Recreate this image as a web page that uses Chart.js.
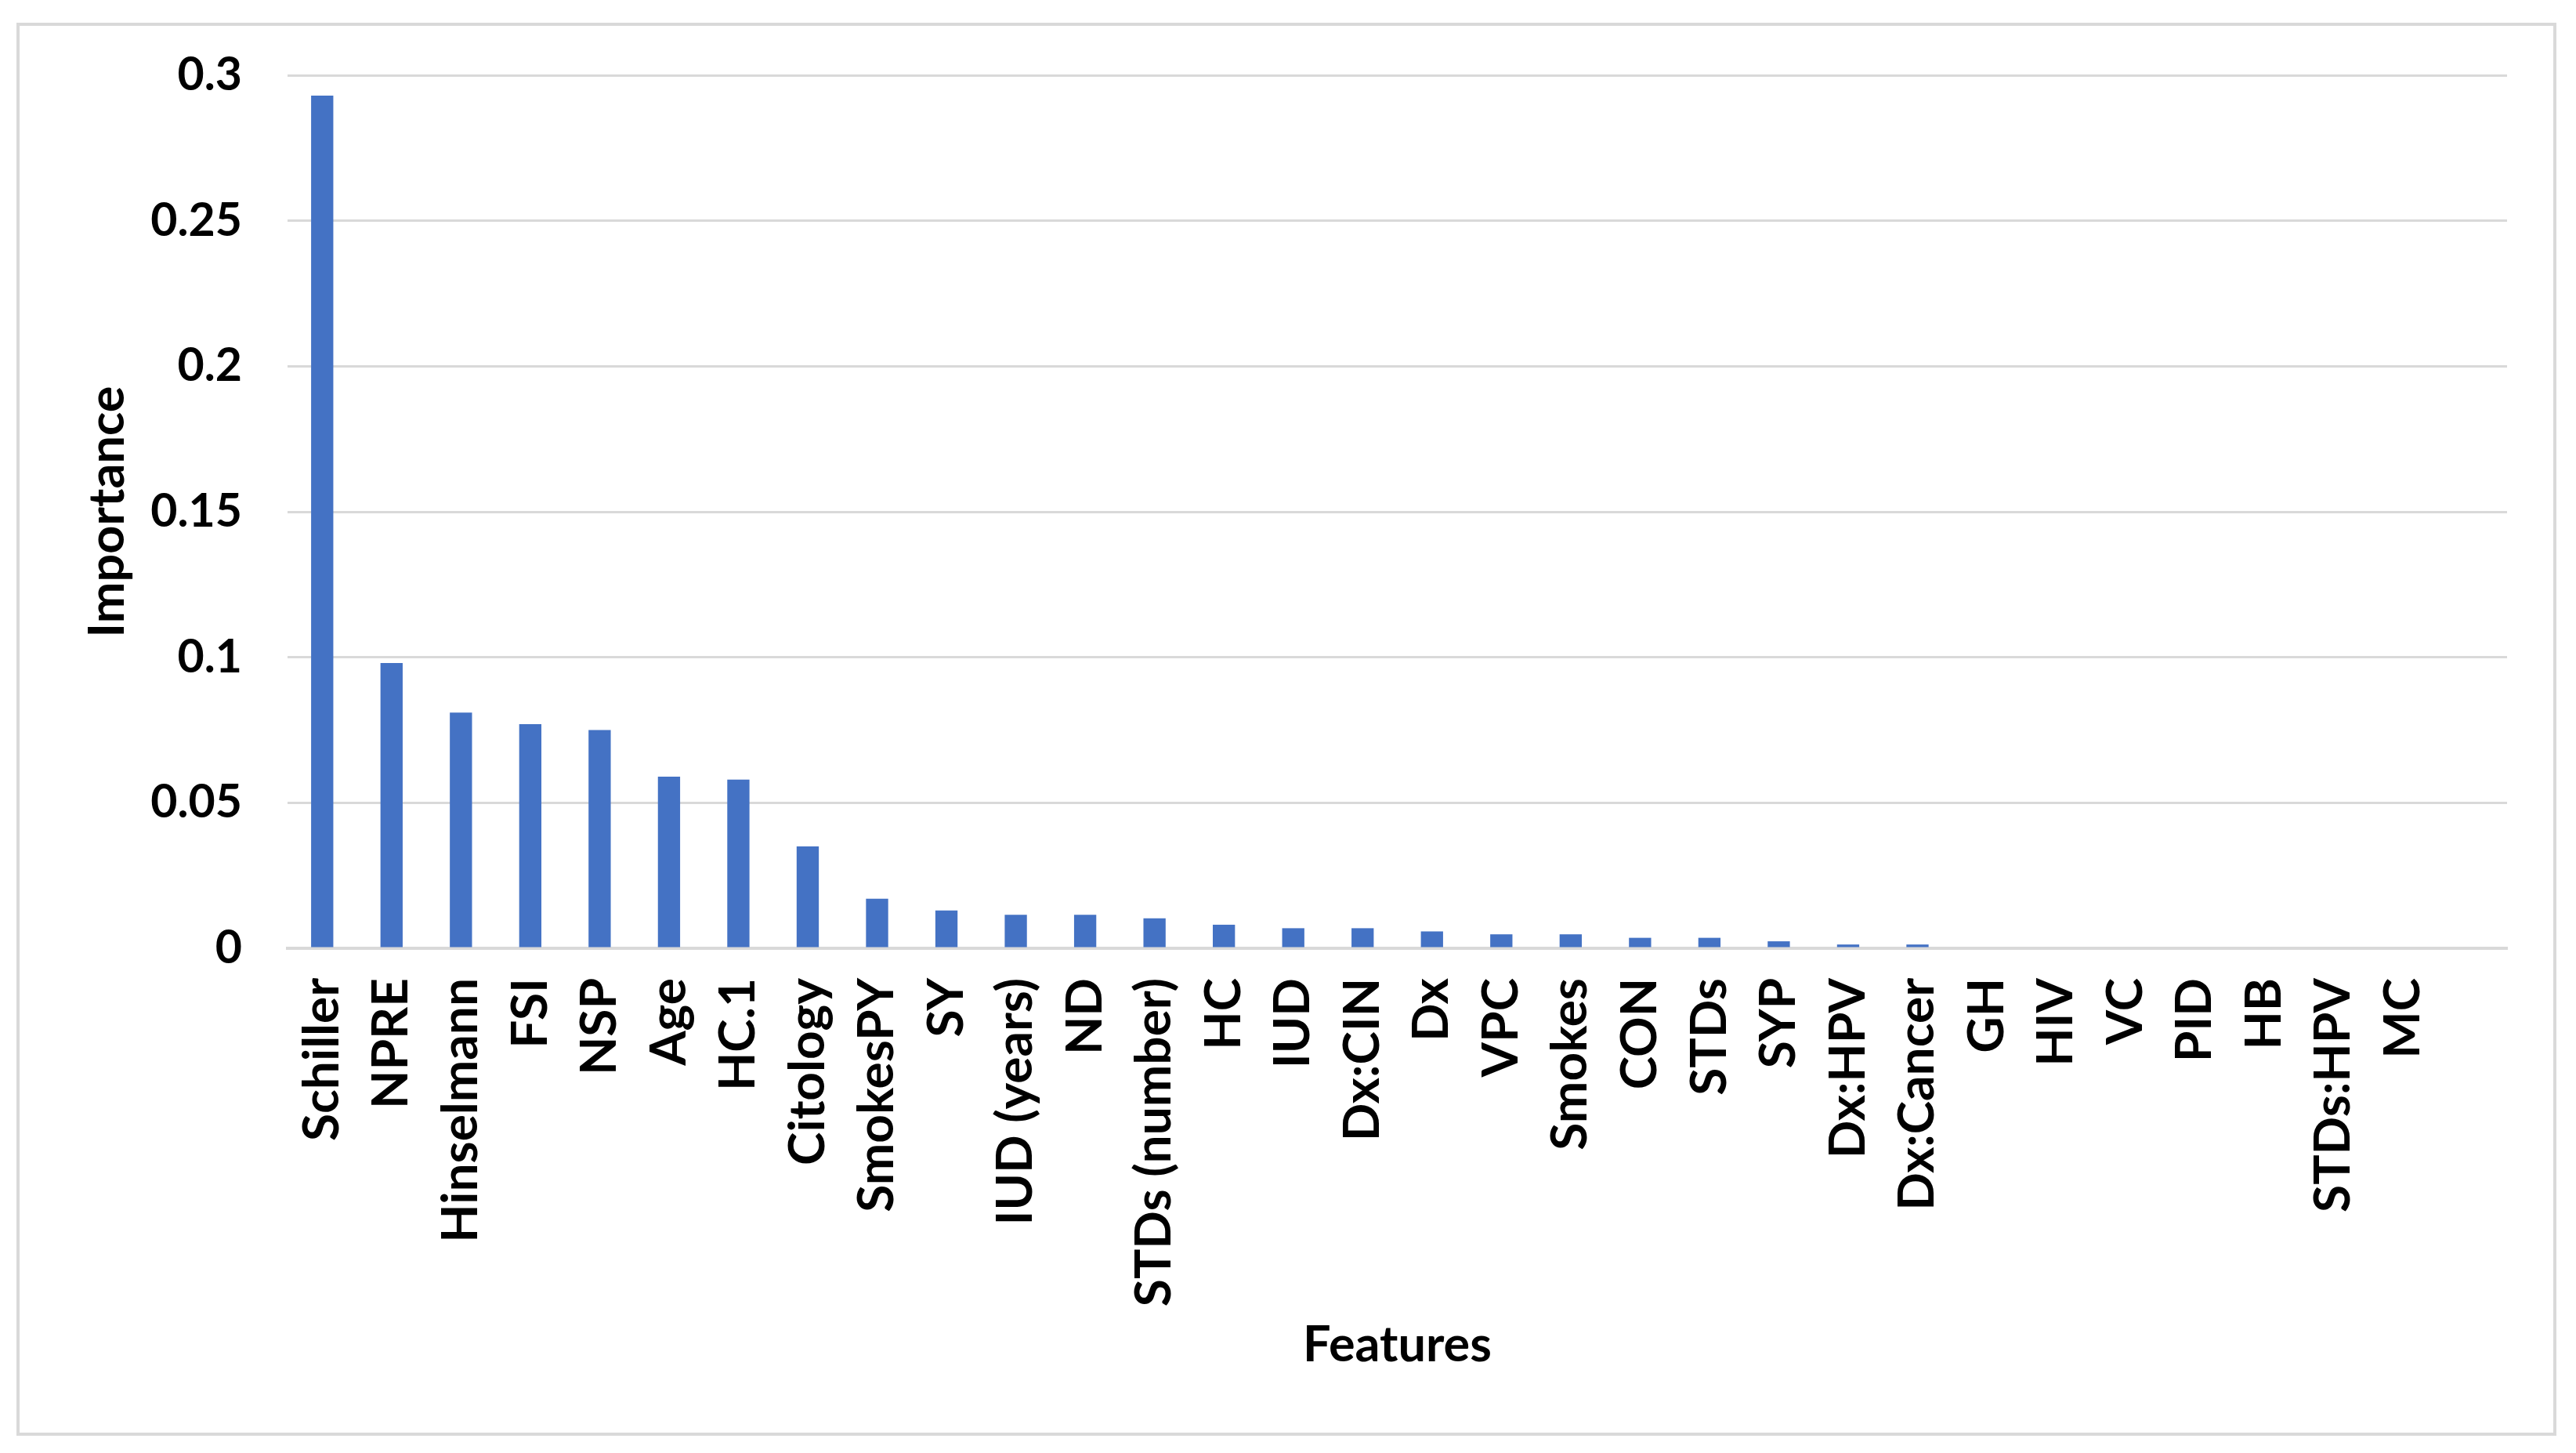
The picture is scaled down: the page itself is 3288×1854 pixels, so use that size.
<!DOCTYPE html>
<html>
<head>
<meta charset="utf-8">
<script src="https://cdn.jsdelivr.net/npm/chart.js@4/dist/chart.umd.min.js"></script>
<style>
  html, body { margin: 0; padding: 0; background: #fff; }
  #wrap { position: relative; width: 3288px; height: 1854px; }
  #frame { position: absolute; left: 21px; top: 29px; width: 3234px; height: 1795px; border: 4px solid #d9d9d9; }
  #chartBox { position: absolute; left: 0; top: 0; width: 3288px; height: 1854px; }
</style>
</head>
<body>
<div id="wrap">
  <div id="frame"></div>
  <div id="chartBox"><canvas id="featChart"></canvas></div>
</div>
<script>
const features = ['Schiller', 'NPRE', 'Hinselmann', 'FSI', 'NSP', 'Age', 'HC.1', 'Citology', 'SmokesPY', 'SY',
  'IUD (years)', 'ND', 'STDs (number)', 'HC', 'IUD', 'Dx:CIN', 'Dx', 'VPC', 'Smokes', 'CON',
  'STDs', 'SYP', 'Dx:HPV', 'Dx:Cancer', 'GH', 'HIV', 'VC', 'PID', 'HB', 'STDs:HPV', 'MC', ''];
const importance = [0.293, 0.098, 0.081, 0.077, 0.075, 0.059, 0.058, 0.035, 0.017, 0.013,
  0.0115, 0.0115, 0.0103, 0.0081, 0.0069, 0.0069, 0.0058, 0.0048, 0.0048, 0.0036,
  0.0036, 0.0024, 0.0013, 0.0013, 0, 0, 0, 0, 0, 0, 0, null];
const yTicks = [0, 0.05, 0.1, 0.15, 0.2, 0.25, 0.3];

const family = 'Lato, "Liberation Sans", sans-serif';
const xFont = { family: family, weight: 'bold', size: 64 };
const yFont = { family: family, weight: 'bold', size: 59 };
const titleFont = { family: family, weight: 'bold', size: 63 };

const ctx = document.getElementById('featChart').getContext('2d');
new Chart(ctx, {
  type: 'bar',
  data: {
    labels: features,
    datasets: [{
      label: 'Importance',
      data: importance,
      backgroundColor: '#4472c4',
      borderWidth: 0,
      barPercentage: 0.32,
      categoryPercentage: 1
    }]
  },
  options: {
    responsive: true,
    maintainAspectRatio: false,
    animation: false,
    layout: { padding: { left: 100, top: 96, right: 88, bottom: 100 } },
    plugins: { legend: { display: false }, tooltip: { enabled: false } },
    scales: {
      x: {
        grid: { display: false },
        border: { display: true, color: '#d9d9d9', width: 4 },
        ticks: { color: '#000', font: xFont, maxRotation: 90, minRotation: 90, autoSkip: false, padding: 30 },
        title: { display: true, text: 'Features', color: '#000', font: titleFont, padding: { top: 0, bottom: 0 } },
        afterFit: (scale) => { scale.height = 544; }
      },
      y: {
        min: 0,
        max: 0.3,
        afterBuildTicks: (scale) => { scale.ticks = yTicks.map(v => ({ value: v })); },
        grid: { color: '#d9d9d9', lineWidth: 3, drawTicks: false },
        border: { display: false },
        ticks: { color: '#000', font: yFont, padding: 58, callback: (v) => String(v) },
        title: { display: true, text: 'Importance', color: '#000', font: titleFont, padding: 0 },
        afterFit: (scale) => { scale.width = 267; }
      }
    }
  }
});
</script>
</body>
</html>
